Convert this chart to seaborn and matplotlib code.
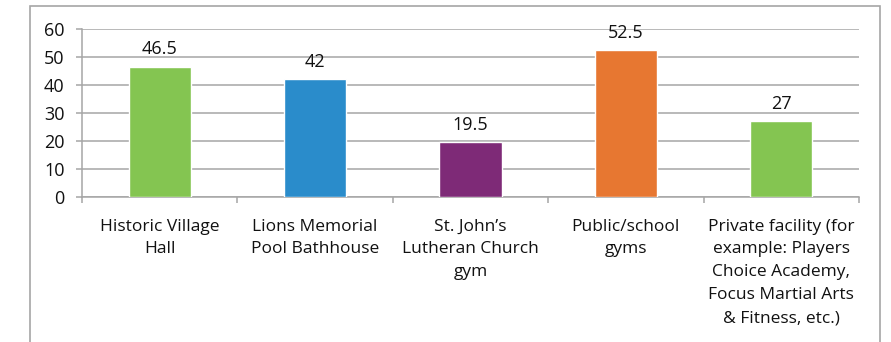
import matplotlib
matplotlib.use("Agg")
import matplotlib.pyplot as plt
import pandas as pd
import seaborn as sns
from matplotlib.patches import Rectangle

# data
categories = [
    "Historic Village\nHall",
    "Lions Memorial\nPool Bathhouse",
    "St. John\u2019s\nLutheran Church\ngym",
    "Public/school\ngyms",
    "Private facility (for\nexample: Players\nChoice Academy,\nFocus Martial Arts\n& Fitness, etc.)",
]
values = [46.5, 42, 19.5, 52.5, 27]
value_labels = ["46.5", "42", "19.5", "52.5", "27"]
bar_colors = ["#84C551", "#2A8CCB", "#7E2A77", "#E77731", "#84C551"]
y_ticks = [0, 10, 20, 30, 40, 50, 60]

GRAY = "#A6A6A6"
TEXT = "#111111"

sns.set_theme(style="white")
plt.rcParams["font.family"] = ["Open Sans", "DejaVu Sans"]

df = pd.DataFrame({"category": categories, "value": values})

fig = plt.figure(figsize=(8.91, 3.42), dpi=100)
ax = fig.add_axes([82 / 891, 1 - 197 / 342, (859 - 82) / 891, (197 - 29) / 342])

# outer chart frame (runs off the bottom of the image)
fig.patches.append(Rectangle((30 / 891, -0.05), (880 - 30) / 891, 1 - 6 / 342 + 0.05,
                             transform=fig.transFigure, fill=False,
                             edgecolor=GRAY, linewidth=1.2, zorder=0))

sns.barplot(data=df, x="category", y="value", hue="category", palette=bar_colors,
            legend=False, width=0.4, saturation=1, ax=ax, zorder=3)

for cont, lab in zip(ax.containers, value_labels):
    ax.bar_label(cont, labels=[lab], padding=6, fontsize=13, color=TEXT)

ax.set_ylim(0, 60)
ax.set_yticks(y_ticks)
ax.set_xlim(-0.5, len(categories) - 0.5)
ax.yaxis.grid(True, color=GRAY, linewidth=1.1, zorder=0)
ax.set_axisbelow(True)
ax.set_xlabel("")
ax.set_ylabel("")

for side in ("top", "right"):
    ax.spines[side].set_visible(False)
for side in ("left", "bottom"):
    ax.spines[side].set_color(GRAY)
    ax.spines[side].set_linewidth(1.1)

ax.tick_params(axis="y", length=4.5, width=1.1, color=GRAY, pad=8,
               labelsize=13, labelcolor=TEXT, left=True)
ax.tick_params(axis="x", which="major", length=0, pad=15.5,
               labelsize=12.5, labelcolor=TEXT)
ax.set_xticks([i - 0.5 for i in range(len(categories) + 1)], minor=True)
ax.tick_params(axis="x", which="minor", length=4.5, width=1.1, color=GRAY, bottom=True)
for t in ax.get_xticklabels():
    t.set_linespacing(1.58)
    t.set_verticalalignment("top")

fig.savefig("out.png", dpi=100)
